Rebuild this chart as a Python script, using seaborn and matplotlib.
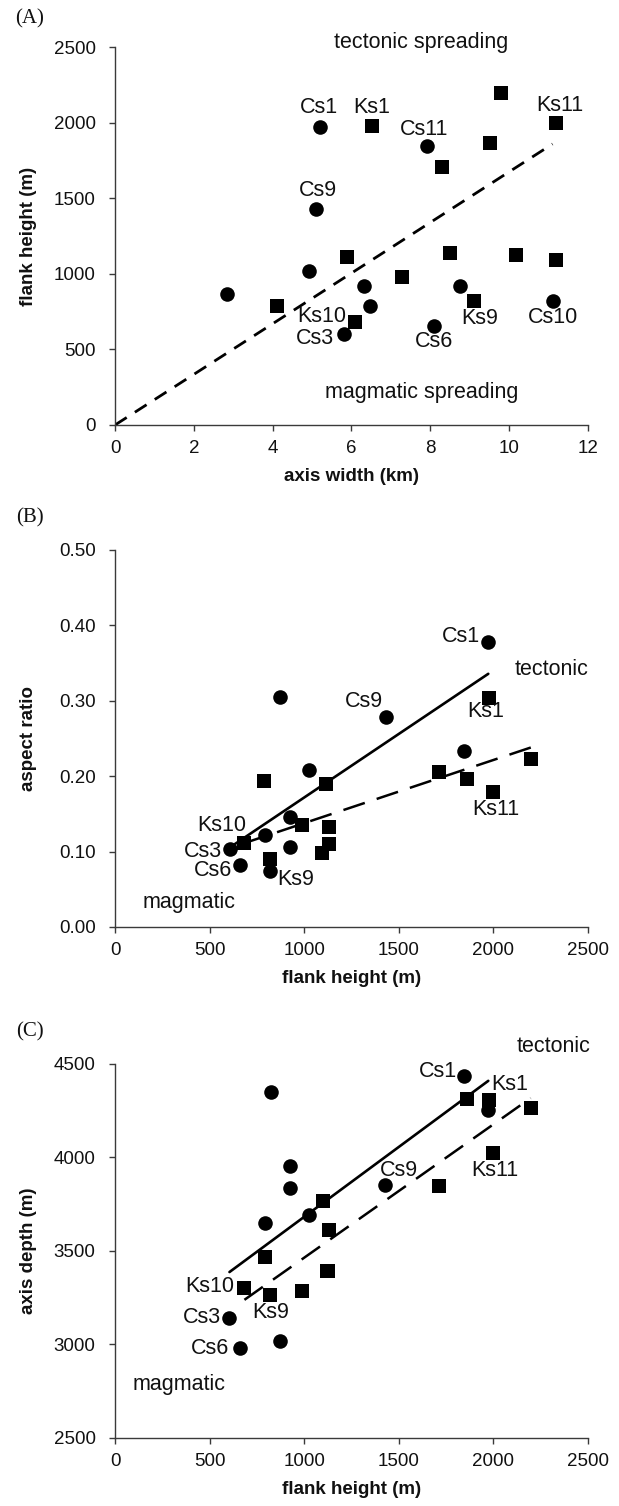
import matplotlib
matplotlib.use("Agg")
import matplotlib.pyplot as plt
from matplotlib.ticker import FormatStrFormatter
import seaborn as sns

# ---------------- data ----------------
# (A) axis width vs flank height
cs_width_a = [5.21, 7.91, 5.11, 2.85, 4.92, 6.31, 6.48, 5.81, 8.75, 8.09, 11.1]
cs_height_a = [1970, 1847, 1427, 868, 1022, 917, 785, 603, 921, 658, 820]
cs_names_a = ["Cs1", "Cs11", "Cs9", "", "", "", "", "Cs3", "", "Cs6", "Cs10"]
ks_width_a = [6.51, 8.29, 9.52, 9.80, 11.2, 4.10, 5.89, 6.09, 7.29, 8.50, 9.10, 10.18, 11.2]
ks_height_a = [1979, 1710, 1864, 2200, 1997, 790, 1114, 684, 982, 1136, 818, 1125, 1092]
ks_names_a = ["Ks1", "", "", "", "Ks11", "", "", "Ks10", "", "", "Ks9", "", ""]
boundary_width = [0, 11.1]
boundary_height = [0, 1860]

# (B) flank height vs aspect ratio
cs_height_b = [1973, 1846, 1431, 873, 1025, 925, 925, 794, 606, 821, 660]
cs_ratio_b = [0.378, 0.233, 0.279, 0.305, 0.208, 0.146, 0.106, 0.122, 0.104, 0.074, 0.082]
cs_names_b = ["Cs1", "", "Cs9", "", "", "", "", "", "Cs3", "", "Cs6"]
ks_height_b = [1977, 2200, 1710, 1863, 1998, 790, 1115, 988, 1133, 1133, 1092, 681, 821]
ks_ratio_b = [0.304, 0.223, 0.206, 0.196, 0.179, 0.193, 0.189, 0.135, 0.133, 0.110, 0.098, 0.111, 0.090]
ks_names_b = ["Ks1", "", "", "", "Ks11", "", "", "", "", "", "", "Ks10", "Ks9"]

# (C) flank height vs axis depth
cs_height_c = [1845, 1973, 1427, 822, 927, 927, 1025, 793, 605, 874, 663]
cs_depth_c = [4435, 4255, 3851, 4351, 3955, 3838, 3691, 3649, 3143, 3018, 2980]
cs_names_c = ["Cs1", "", "Cs9", "", "", "", "", "", "Cs3", "", "Cs6"]
ks_height_c = [1862, 1977, 2197, 1998, 1713, 1098, 1132, 795, 1124, 1119, 684, 820, 987]
ks_depth_c = [4315, 4309, 4266, 4023, 3847, 3766, 3610, 3468, 3395, 3393, 3302, 3266, 3286]
ks_names_c = ["", "Ks1", "", "Ks11", "", "", "", "", "", "", "Ks10", "Ks9", ""]

# ---------------- style ----------------
sns.set_style("ticks")
plt.rcParams["font.family"] = ["Liberation Sans", "DejaVu Sans"]
INK = "#111111"
SPINE = "#3a3a3a"
TICK_FS = 13.5
LABEL_FS = 13.5
ANNOT_FS = 15.5

fig = plt.figure(figsize=(6.19, 15.06), dpi=100)
axA = fig.add_axes([0.1858, 0.7178, 0.7641, 0.2508])
axB = fig.add_axes([0.1858, 0.3845, 0.7641, 0.2503])
axC = fig.add_axes([0.1858, 0.0452, 0.7641, 0.2483])


def style_axes(ax, xlabel, ylabel):
    sns.despine(ax=ax)
    for side in ("left", "bottom"):
        ax.spines[side].set_color(SPINE)
        ax.spines[side].set_linewidth(1.0)
    ax.tick_params(axis="x", length=4, width=1, color=SPINE, pad=7,
                   labelsize=TICK_FS, labelcolor=INK)
    ax.tick_params(axis="y", length=4, width=1, color=SPINE, pad=10,
                   labelsize=TICK_FS, labelcolor=INK)
    ax.set_xlabel(xlabel, fontsize=LABEL_FS, fontweight="bold", color=INK)
    ax.set_ylabel(ylabel, fontsize=LABEL_FS, fontweight="bold", color=INK)
    ax.xaxis.set_label_coords(0.5, -0.115)
    ax.yaxis.set_label_coords(-0.165, 0.5)


def draw_points(ax, cx, cy, kx, ky):
    sns.scatterplot(x=cx, y=cy, marker="o", s=110, color="black",
                    linewidth=0, ax=ax, zorder=3, clip_on=False)
    sns.scatterplot(x=kx, y=ky, marker="s", s=92, color="black",
                    linewidth=0, ax=ax, zorder=3, clip_on=False)


def label_points(ax, xs, ys, names, offsets):
    for i, name in enumerate(names):
        if name:
            dx, dy = offsets[name]
            ax.annotate(name, (xs[i], ys[i]), xytext=(dx, dy),
                        textcoords="offset points", ha="center", va="center",
                        fontsize=ANNOT_FS, color=INK, zorder=4)


# ---------------- (A) ----------------
sns.lineplot(x=boundary_width, y=boundary_height, ax=axA, color="black",
             lw=2.0, linestyle=(0, (5, 3.5)), zorder=2)
draw_points(axA, cs_width_a, cs_height_a, ks_width_a, ks_height_a)
axA.set_xlim(0, 12)
axA.set_ylim(0, 2500)
axA.set_xticks(range(0, 13, 2))
axA.set_yticks(range(0, 2501, 500))
offs_a = {"Cs1": (-0.7, 14.4), "Cs11": (-2.2, 12.2), "Cs9": (1.4, 13.7),
          "Cs3": (-21, -3.6), "Cs6": (0, -11.5), "Cs10": (0, -11.9),
          "Ks1": (0, 13), "Ks11": (2.2, 13), "Ks10": (-23.8, 3.6),
          "Ks9": (4, -12.6)}
label_points(axA, cs_width_a, cs_height_a, cs_names_a, offs_a)
label_points(axA, ks_width_a, ks_height_a, ks_names_a, offs_a)
axA.text(7.76, 2530, "tectonic spreading", ha="center", va="center",
         fontsize=ANNOT_FS, color=INK, clip_on=False)
axA.text(7.79, 215, "magmatic spreading", ha="center", va="center",
         fontsize=ANNOT_FS, color=INK)
style_axes(axA, "axis width (km)", "flank height (m)")

# ---------------- (B) ----------------
sns.regplot(x=cs_height_b, y=cs_ratio_b, ax=axB, scatter=False, ci=None,
            truncate=True, color="black", line_kws=dict(lw=1.9, zorder=2))
sns.regplot(x=ks_height_b, y=ks_ratio_b, ax=axB, scatter=False, ci=None,
            truncate=True, color="black",
            line_kws=dict(lw=1.8, linestyle=(0, (9, 5)), zorder=2))
draw_points(axB, cs_height_b, cs_ratio_b, ks_height_b, ks_ratio_b)
axB.set_xlim(0, 2500)
axB.set_ylim(0, 0.5)
axB.set_xticks(range(0, 2501, 500))
axB.set_yticks([0.0, 0.1, 0.2, 0.3, 0.4, 0.5])
axB.yaxis.set_major_formatter(FormatStrFormatter("%.2f"))
offs_b = {"Cs1": (-19.9, 3.8), "Cs9": (-15.8, 10.8), "Cs3": (-18.9, -2.2),
          "Cs6": (-19.2, -3.8), "Ks1": (-2.3, -9.8), "Ks11": (1.7, -12.5),
          "Ks10": (-15.8, 12.5), "Ks9": (18.4, -14.7)}
label_points(axB, cs_height_b, cs_ratio_b, cs_names_b, offs_b)
label_points(axB, ks_height_b, ks_ratio_b, ks_names_b, offs_b)
axB.text(2305, 0.342, "tectonic", ha="center", va="center",
         fontsize=ANNOT_FS, color=INK, clip_on=False)
axB.text(394, 0.033, "magmatic", ha="center", va="center",
         fontsize=ANNOT_FS, color=INK)
style_axes(axB, "flank height (m)", "aspect ratio")

# ---------------- (C) ----------------
sns.regplot(x=cs_height_c, y=cs_depth_c, ax=axC, scatter=False, ci=None,
            truncate=True, color="black", line_kws=dict(lw=1.9, zorder=2))
sns.regplot(x=ks_height_c, y=ks_depth_c, ax=axC, scatter=False, ci=None,
            truncate=True, color="black",
            line_kws=dict(lw=1.8, linestyle=(0, (9, 5)), zorder=2))
draw_points(axC, cs_height_c, cs_depth_c, ks_height_c, ks_depth_c)
axC.set_xlim(0, 2500)
axC.set_ylim(2500, 4500)
axC.set_xticks(range(0, 2501, 500))
axC.set_yticks(range(2500, 4501, 500))
offs_c = {"Cs1": (-19.1, 3.2), "Cs9": (9.9, 10.4), "Cs3": (-20, 0),
          "Cs6": (-22.2, 0), "Ks1": (14.8, 11.2), "Ks11": (1.4, -12.8),
          "Ks10": (-25, 1.2), "Ks9": (0.6, -12.5)}
label_points(axC, cs_height_c, cs_depth_c, cs_names_c, offs_c)
label_points(axC, ks_height_c, ks_depth_c, ks_names_c, offs_c)
axC.text(2316, 4594, "tectonic", ha="center", va="center",
         fontsize=ANNOT_FS, color=INK, clip_on=False)
axC.text(339, 2786, "magmatic", ha="center", va="center",
         fontsize=ANNOT_FS, color=INK)
style_axes(axC, "flank height (m)", "axis depth (m)")

# panel letters
for letter, ypix in (("(A)", 19), ("(B)", 518), ("(C)", 1032)):
    fig.text(30 / 619, 1 - ypix / 1506, letter, ha="center", va="center",
             fontsize=15, family=["Liberation Serif", "DejaVu Serif"],
             color=INK)

fig.savefig("out.png", dpi=100, facecolor="white")
